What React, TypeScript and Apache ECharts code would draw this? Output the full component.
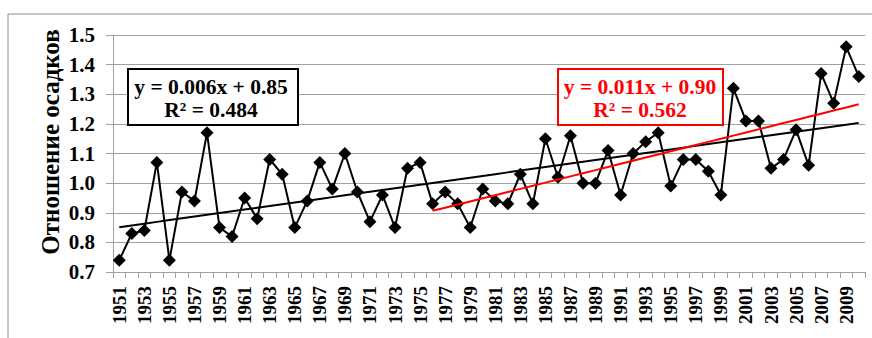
import React, { useEffect, useRef } from "react";
import * as echarts from "echarts";

const years: string[] = [];
for (let y = 1951; y <= 2010; y++) years.push(String(y));

const ratio = [
  0.74, 0.83, 0.84, 1.07, 0.74, 0.97, 0.94, 1.17, 0.85, 0.82,
  0.95, 0.88, 1.08, 1.03, 0.85, 0.94, 1.07, 0.98, 1.10, 0.97,
  0.87, 0.96, 0.85, 1.05, 1.07, 0.93, 0.97, 0.93, 0.85, 0.98,
  0.94, 0.93, 1.03, 0.93, 1.15, 1.02, 1.16, 1.00, 1.00, 1.11,
  0.96, 1.10, 1.14, 1.17, 0.99, 1.08, 1.08, 1.04, 0.96, 1.32,
  1.21, 1.21, 1.05, 1.08, 1.18, 1.06, 1.37, 1.27, 1.46, 1.36,
];

const yTicks = [0.7, 0.8, 0.9, 1.0, 1.1, 1.2, 1.3, 1.4, 1.5];
const redStartYear = "1976";
const yAxisTitle = "Отношение осадков";
const blackEq = ["y = 0.006x + 0.85", "R² = 0.484"];
const redEq = ["y = 0.011x + 0.90", "R² = 0.562"];

function fit(vals: number[]) {
  const n = vals.length;
  let sx = 0, sy = 0, sxx = 0, sxy = 0;
  vals.forEach((v, i) => {
    const x = i + 1;
    sx += x; sy += v; sxx += x * x; sxy += x * v;
  });
  const b = (n * sxy - sx * sy) / (n * sxx - sx * sx);
  const a = (sy - b * sx) / n;
  return vals.map((_, i) => a + b * (i + 1));
}

const FONT = "Liberation Serif, serif";

export default function App() {
  const ref = useRef<HTMLDivElement>(null);
  useEffect(() => {
    if (!ref.current) return;
    const chart = echarts.init(ref.current, undefined, { renderer: "svg" });
    const startIdx = years.indexOf(redStartYear);
    const blackTrend = fit(ratio);
    const redFitVals = fit(ratio.slice(startIdx));
    const redTrend: (number | null)[] = years.map((_, i) =>
      i < startIdx ? null : redFitVals[i - startIdx]
    );
    const grey = "#a0a0a0";
    const boxText = (x: number, y: number, t: string, color: string) => ({
      type: "text",
      x,
      y,
      style: {
        text: t,
        fill: color,
        fontFamily: FONT,
        fontWeight: "bold",
        fontSize: 21.5,
        align: "center",
        verticalAlign: "middle",
      },
      z: 20,
    });
    chart.setOption({
      animation: false,
      grid: { left: 113, right: 7, top: 35, bottom: 66 },
      xAxis: {
        type: "category",
        data: years,
        boundaryGap: true,
        axisLine: { lineStyle: { color: grey, width: 1 } },
        axisTick: { show: true, interval: 0, length: 6, lineStyle: { color: grey } },
        axisLabel: {
          interval: 1,
          rotate: 90,
          margin: 14,
          color: "#000",
          fontFamily: FONT,
          fontWeight: "bold",
          fontSize: 19,
        },
        splitLine: { show: false },
      },
      yAxis: {
        type: "value",
        min: yTicks[0],
        max: yTicks[yTicks.length - 1],
        interval: 0.1,
        axisLine: { show: true, lineStyle: { color: grey, width: 1 } },
        axisTick: { show: true, length: 7, lineStyle: { color: grey } },
        axisLabel: {
          margin: 18,
          color: "#000",
          fontFamily: FONT,
          fontWeight: "bold",
          fontSize: 21,
          formatter: (v: number) => v.toFixed(1),
        },
        splitLine: { show: true, lineStyle: { color: grey, width: 1 } },
      },
      series: [
        {
          type: "line",
          data: ratio,
          symbol: "diamond",
          symbolSize: 13,
          showAllSymbol: true,
          itemStyle: { color: "#000" },
          lineStyle: { color: "#000", width: 2 },
          z: 3,
        },
        {
          type: "line",
          data: blackTrend,
          symbol: "none",
          lineStyle: { color: "#000", width: 2 },
          z: 4,
        },
        {
          type: "line",
          data: redTrend,
          symbol: "none",
          connectNulls: false,
          lineStyle: { color: "#ff0000", width: 2 },
          z: 5,
        },
      ],
      graphic: [
        {
          type: "rect",
          shape: { x: 8, y: 14, width: 900, height: 400 },
          style: { fill: "none", stroke: "#8c8c8c", lineWidth: 1 },
          silent: true,
          z: 0,
        },
        {
          type: "text",
          x: 50,
          y: 142,
          rotation: Math.PI / 2,
          style: {
            text: yAxisTitle,
            fill: "#000",
            fontFamily: FONT,
            fontWeight: "bold",
            fontSize: 25,
            align: "center",
            verticalAlign: "middle",
          },
        },
        {
          type: "rect",
          shape: { x: 128, y: 69, width: 170, height: 56 },
          style: { fill: "#fff", stroke: "#000", lineWidth: 2 },
          z: 19,
        },
        boxText(211, 87, blackEq[0], "#000"),
        boxText(211, 110, blackEq[1], "#000"),
        {
          type: "rect",
          shape: { x: 558, y: 69, width: 165, height: 56 },
          style: { fill: "#fff", stroke: "#ff0000", lineWidth: 2 },
          z: 19,
        },
        boxText(640, 87, redEq[0], "#ff0000"),
        boxText(640, 110, redEq[1], "#ff0000"),
      ],
    });
    return () => chart.dispose();
  }, []);
  return (
    <div
      ref={ref}
      style={{ position: "absolute", left: 0, top: 0, width: 872, height: 338, background: "#fff" }}
    />
  );
}
